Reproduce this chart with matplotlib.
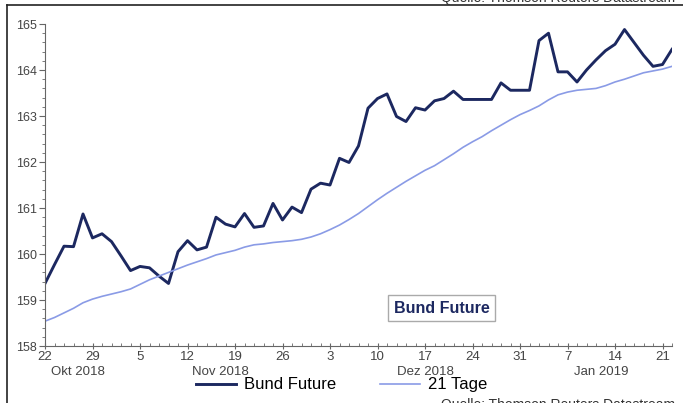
import matplotlib.pyplot as plt
import numpy as np
import pandas as pd
from matplotlib.lines import Line2D

plt.rcParams['font.family'] = ['Liberation Sans', 'DejaVu Sans']

# trading days 22 Oct 2018 - 22 Jan 2019
start = '2018-10-22'
end = '2019-01-22'

bund = [
    159.36, 159.77, 160.17, 160.16, 160.87, 160.35, 160.44, 160.27, 159.96, 159.64,
    159.73, 159.70, 159.52, 159.36, 160.05, 160.29, 160.09, 160.15, 160.80, 160.65,
    160.59, 160.88, 160.58, 160.61, 161.10, 160.74, 161.02, 160.90, 161.41, 161.54,
    161.50, 162.08, 161.99, 162.35, 163.17, 163.38, 163.48, 162.99, 162.88, 163.18,
    163.13, 163.33, 163.38, 163.54, 163.36, 163.36, 163.36, 163.36, 163.72, 163.56,
    163.56, 163.56, 164.64, 164.80, 163.96, 163.96, 163.74, 164.00, 164.22, 164.42,
    164.56, 164.88, 164.60, 164.32, 164.08, 164.12, 164.45,
]

tage21 = [
    158.54, 158.62, 158.72, 158.82, 158.94, 159.02, 159.08, 159.13, 159.18, 159.24,
    159.34, 159.44, 159.52, 159.60, 159.68, 159.76, 159.83, 159.90, 159.98, 160.03,
    160.08, 160.15, 160.20, 160.22, 160.25, 160.27, 160.29, 160.32, 160.37, 160.44,
    160.53, 160.63, 160.75, 160.88, 161.03, 161.18, 161.32, 161.45, 161.58, 161.70,
    161.82, 161.92, 162.05, 162.18, 162.32, 162.44, 162.55, 162.68, 162.80, 162.92,
    163.03, 163.12, 163.22, 163.35, 163.46, 163.52, 163.56, 163.58, 163.60, 163.66,
    163.74, 163.80, 163.87, 163.94, 163.98, 164.02, 164.08,
]

month_names = {10: 'Okt', 11: 'Nov', 12: 'Dez', 1: 'Jan'}

navy = '#1c2860'
light = '#8a9be6'
grey = '#444444'

dates = pd.bdate_range(start, end)
x = np.arange(len(dates))

fig = plt.figure(figsize=(6.83, 4.03), dpi=100)
ax = fig.add_axes([0.0659, 0.1414, 0.918, 0.799])

ax.plot(x, bund, color=navy, lw=2.1, label='Bund Future', solid_joinstyle='round')
ax.plot(x, tage21, color=light, lw=1.2, label='21 Tage')

ax.set_xlim(0, len(dates) - 1)
ax.set_ylim(158, 165)

for s in ['top', 'right']:
    ax.spines[s].set_visible(False)
for s in ['left', 'bottom']:
    ax.spines[s].set_color('#666666')
    ax.spines[s].set_linewidth(0.8)

# y axis: whole numbers, minor every 0.2
ax.set_yticks(np.arange(158, 166))
ax.set_yticks(np.arange(158, 165.01, 0.2), minor=True)
ax.tick_params(axis='y', which='major', direction='out', length=4, labelsize=9,
               labelcolor=grey, color='#666666', pad=2)
ax.tick_params(axis='y', which='minor', direction='out', length=2, color='#666666')

# x axis: Mondays labelled, every trading day as minor tick
mondays = [i for i, d in enumerate(dates) if d.weekday() == 0]
ax.set_xticks(mondays)
ax.set_xticklabels([str(dates[i].day) for i in mondays])
ax.set_xticks(x, minor=True)
ax.tick_params(axis='x', which='major', direction='inout', length=5, labelsize=9.5,
               labelcolor=grey, color='#666666', pad=1)
ax.tick_params(axis='x', which='minor', direction='in', length=2, color='#666666')

# month labels centred under each visible month
for m in pd.unique(dates.month):
    idx = x[dates.month == m]
    yr = dates[idx[0]].year
    ax.text((idx[0] + idx[-1]) / 2, -0.062, f'{month_names[m]} {yr}',
            transform=ax.get_xaxis_transform(), ha='center', va='top',
            fontsize=9.5, color=grey)

ax.text(0.633, 0.118, 'Bund Future', transform=ax.transAxes, ha='center', va='center',
        fontsize=11.5, fontweight='bold', color=navy,
        bbox=dict(boxstyle='square,pad=0.35', fc='white', ec='#aaaaaa', lw=1))

fig.legend(loc='center', bbox_to_anchor=(0.5, 0.045), ncol=2, frameon=False,
           fontsize=12, handlelength=2.4, columnspacing=2.6, handletextpad=0.5)

# outer frame and source lines
fig.add_artist(Line2D([0.0102, 0.0102], [0, 0.9876], color='#222222', lw=1.2,
                      transform=fig.transFigure))
fig.add_artist(Line2D([0.0102, 1], [0.9876, 0.9876], color='#222222', lw=1.2,
                      transform=fig.transFigure))
fig.text(0.988, 1.004, 'Quelle: Thomson Reuters Datastream', ha='right', va='center',
         fontsize=10, color='#333333')
fig.text(0.988, -0.004, 'Quelle: Thomson Reuters Datastream', ha='right', va='center',
         fontsize=10, color='#333333')

fig.savefig('out.png', dpi=100)
